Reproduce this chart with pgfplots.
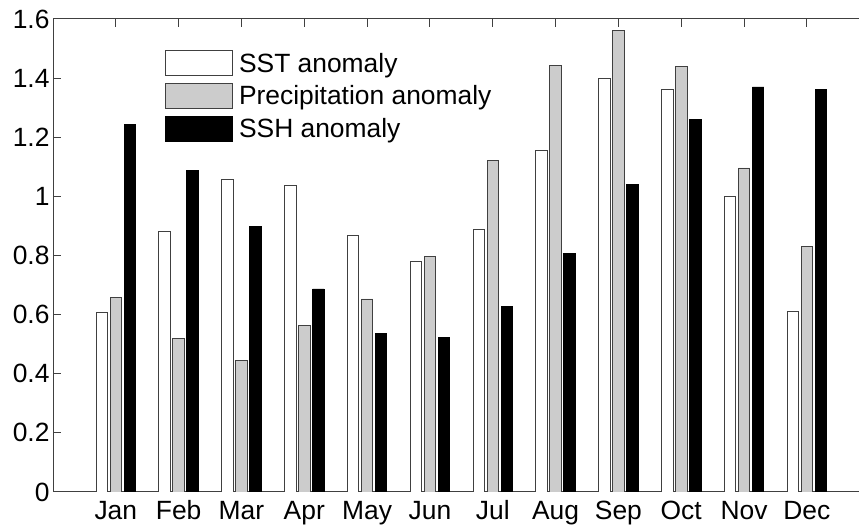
\documentclass[border=0pt]{standalone}
\usepackage{fontspec}
\setmainfont{Liberation Sans}
\usepackage{pgfplots}
\usepackage{pgfplotstable}
\pgfplotsset{compat=1.18}
\usetikzlibrary{calc}
\definecolor{bargray}{gray}{0.80}
\definecolor{axgray}{gray}{0.25}
\definecolor{edgegray}{gray}{0.25}

\pgfplotstableread{
m sst pre ssh
1 0.607 0.657 1.244
2 0.883 0.518 1.087
3 1.059 0.445 0.899
4 1.036 0.563 0.687
5 0.868 0.653 0.537
6 0.779 0.796 0.522
7 0.889 1.123 0.627
8 1.157 1.442 0.807
9 1.398 1.561 1.041
10 1.361 1.440 1.259
11 1.000 1.096 1.370
12 0.610 0.830 1.361
}\data

\begin{document}
\begin{tikzpicture}
\begin{axis}[name=ax,
  scale only axis, width=806pt, height=473pt,
  xmin=0, xmax=12.83, ymin=0, ymax=1.6,
  ybar=2.5pt, bar width=11.5pt,
  xtick={1,2,3,4,5,6,7,8,9,10,11,12},
  xticklabels={Jan,Feb,Mar,Apr,May,Jun,Jul,Aug,Sep,Oct,Nov,Dec},
  ytick={0,0.2,0.4,0.6,0.8,1,1.2,1.4,1.6},
  yticklabel style={/pgf/number format/fixed, /pgf/number format/precision=1},
  /pgf/number format/assume math mode=true,
  font=\fontsize{26.4}{31}\selectfont,
  axis x line*=box, axis y line*=left,
  x axis line style={-}, y axis line style={-},
  axis line style={axgray, line width=1pt},
  tick align=inside, major tick length=8pt,
  every tick/.style={axgray, line width=1pt},
  xticklabel style={text height=19.5pt, text depth=5.5pt, yshift=-4pt},
  legend image code/.code={\draw[#1, line width=0.8pt] (0pt,-12.5pt) rectangle (67pt,12.5pt);},
  legend style={at={(0.139,0.934)}, anchor=north west, draw=none, fill=none,
    inner sep=0pt, row sep=7pt, column sep=4pt,
    nodes={inner sep=2pt, anchor=west, font=\fontsize{26.4}{31}\selectfont}},
  legend cell align=left,
]
\addplot[draw=edgegray, fill=white, line width=0.8pt] table[x=m, y=sst] {\data};
\addplot[draw=edgegray, fill=bargray, line width=0.8pt] table[x=m, y=pre] {\data};
\addplot[draw=black, fill=black, line width=0.8pt] table[x=m, y=ssh] {\data};
\legend{SST anomaly, Precipitation anomaly, SSH anomaly}
\end{axis}
\pgfresetboundingbox
\path ($(ax.south west)+(-53pt,-37pt)$) rectangle ($(ax.north east)+(0pt,19pt)$);
\end{tikzpicture}
\end{document}
